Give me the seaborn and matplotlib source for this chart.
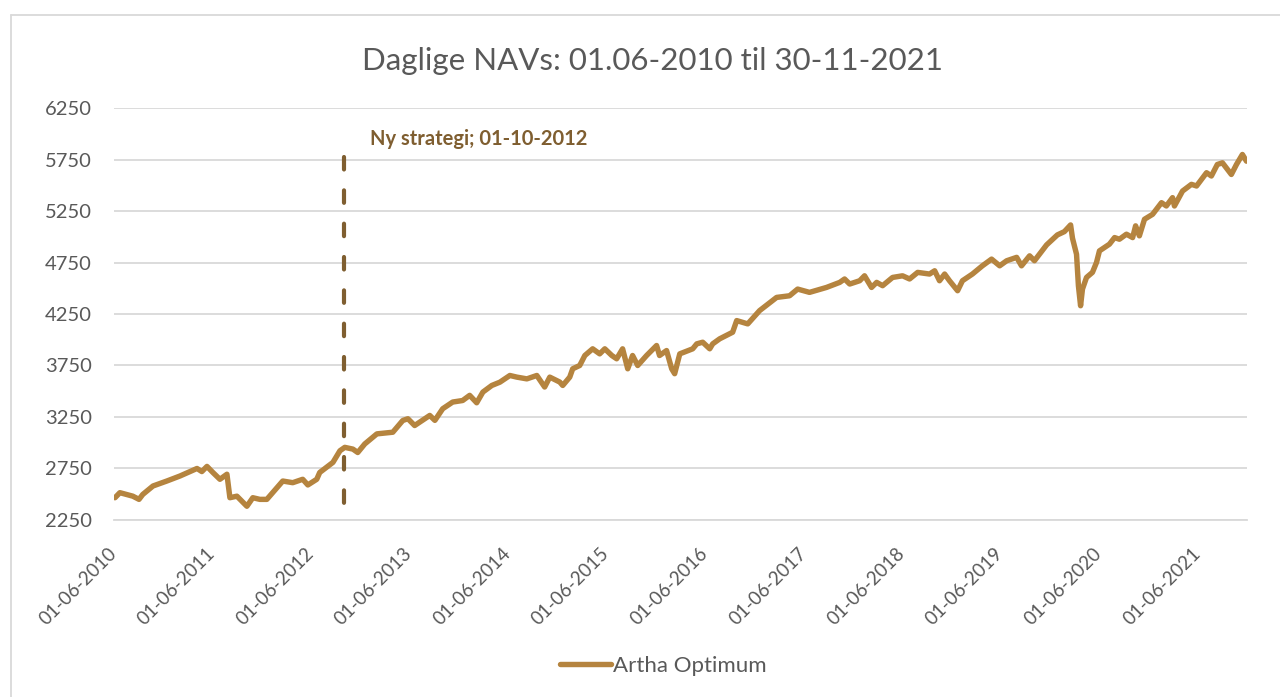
import pandas as pd
import seaborn as sns
import matplotlib.pyplot as plt
import matplotlib.dates as mdates
from matplotlib.lines import Line2D

# NAV values
dates = [
    "2010-06-05", "2010-06-23", "2010-08-10", "2010-09-02", "2010-09-16", "2010-10-24",
    "2010-12-14", "2011-02-01", "2011-04-05", "2011-04-23", "2011-05-12", "2011-06-03",
    "2011-06-29", "2011-07-25", "2011-08-05", "2011-08-31", "2011-10-07", "2011-10-29",
    "2011-11-24", "2011-12-20", "2012-02-17", "2012-03-25", "2012-05-01", "2012-05-20",
    "2012-06-22", "2012-07-03", "2012-08-21", "2012-09-16", "2012-10-04", "2012-11-03",
    "2012-11-21", "2012-12-17", "2013-01-31", "2013-03-31", "2013-05-07", "2013-05-26",
    "2013-06-20", "2013-08-15", "2013-09-03", "2013-10-02", "2013-11-08", "2013-12-15",
    "2014-01-10", "2014-02-05", "2014-02-28", "2014-04-02", "2014-05-02", "2014-06-08",
    "2014-07-04", "2014-08-10", "2014-09-16", "2014-10-15", "2014-11-03", "2014-12-10",
    "2014-12-21", "2015-01-16", "2015-01-27", "2015-02-22", "2015-03-13", "2015-04-11",
    "2015-05-07", "2015-05-26", "2015-06-21", "2015-07-09", "2015-07-31", "2015-08-19",
    "2015-09-06", "2015-09-25", "2015-10-28", "2015-12-04", "2015-12-15", "2016-01-10",
    "2016-01-29", "2016-02-09", "2016-02-28", "2016-04-16", "2016-05-01", "2016-05-23",
    "2016-06-18", "2016-06-29", "2016-07-25", "2016-09-11", "2016-09-26", "2016-11-06",
    "2016-12-20", "2017-02-21", "2017-04-10", "2017-05-10", "2017-06-23", "2017-08-25",
    "2017-10-13", "2017-10-31", "2017-11-19", "2017-12-26", "2018-01-13", "2018-02-08",
    "2018-02-27", "2018-03-21", "2018-04-27", "2018-06-03", "2018-06-29", "2018-07-29",
    "2018-09-11", "2018-09-30", "2018-10-18", "2018-11-06", "2018-11-24", "2018-12-24",
    "2019-01-11", "2019-02-17", "2019-03-26", "2019-04-29", "2019-05-29", "2019-06-24",
    "2019-07-31", "2019-08-18", "2019-09-17", "2019-10-05", "2019-11-19", "2019-12-29",
    "2020-01-24", "2020-02-16", "2020-02-23", "2020-03-09", "2020-03-16", "2020-03-24",
    "2020-03-31", "2020-04-15", "2020-05-07", "2020-05-22", "2020-06-02", "2020-07-09",
    "2020-07-28", "2020-08-15", "2020-09-10", "2020-10-03", "2020-10-14", "2020-10-28",
    "2020-11-16", "2020-12-16", "2021-01-18", "2021-02-05", "2021-02-28", "2021-03-07",
    "2021-04-06", "2021-05-09", "2021-05-28", "2021-07-04", "2021-07-22", "2021-08-13",
    "2021-09-01", "2021-10-04", "2021-10-23", "2021-11-14", "2021-11-29",
]
nav = [
    2466, 2515, 2481, 2450, 2498, 2580,
    2628, 2677, 2750, 2720, 2770, 2711,
    2645, 2694, 2466, 2481, 2383, 2466,
    2450, 2450, 2628, 2612, 2645, 2590,
    2645, 2711, 2809, 2922, 2955, 2938,
    2905, 2988, 3086, 3102, 3216, 3233,
    3167, 3265, 3217, 3330, 3395, 3410,
    3460, 3388, 3492, 3556, 3588, 3653,
    3637, 3620, 3653, 3541, 3637, 3589,
    3556, 3637, 3718, 3750, 3847, 3912,
    3863, 3912, 3847, 3815, 3912, 3718,
    3847, 3750, 3847, 3944, 3847, 3895,
    3718, 3670, 3863, 3912, 3960, 3976,
    3912, 3960, 4009, 4073, 4186, 4154,
    4283, 4411, 4427, 4492, 4460, 4508,
    4557, 4590, 4541, 4573, 4621, 4508,
    4557, 4525, 4605, 4621, 4590, 4654,
    4638, 4670, 4573, 4638, 4573, 4476,
    4573, 4638, 4718, 4783, 4718, 4767,
    4800, 4718, 4815, 4767, 4921, 5018,
    5050, 5115, 4986, 4830, 4524, 4330,
    4492, 4605, 4654, 4750, 4863, 4928,
    4992, 4976, 5025, 4992, 5106, 5009,
    5170, 5218, 5331, 5299, 5380, 5299,
    5444, 5509, 5493, 5622, 5590, 5702,
    5718, 5605, 5702, 5799, 5734,
]
strategy_date = "2012-10-01"
strategy_label = "Ny strategi; 01-10-2012"
series_name = "Artha Optimum"
title = "Daglige NAVs: 01.06-2010 til 30-11-2021"
y_ticks = [2250, 2750, 3250, 3750, 4250, 4750, 5250, 5750, 6250]
x_ticks = [f"{y}-06-01" for y in range(2010, 2022)]

df = pd.DataFrame({"dato": pd.to_datetime(dates), "nav": nav})

sns.set_theme(style="white")
plt.rcParams["font.family"] = ["Lato", "DejaVu Sans"]

line_col = "#B5843F"
dash_col = "#7F5E30"
txt_col = "#595959"
grid_col = "#D9D9D9"

fig = plt.figure(figsize=(12.8, 6.97), dpi=100)
ax = fig.add_axes([0.089, 0.254, 0.885, 0.591])

sns.lineplot(data=df, x="dato", y="nav", ax=ax, color=line_col, linewidth=3.9,
             solid_capstyle="round", solid_joinstyle="round", legend=False)

# strategy change marker, drawn top-down so the dash pattern starts at the top
sd = pd.Timestamp(strategy_date)
ax.plot([sd, sd], [5775, 2240], color=dash_col, linewidth=3, linestyle=(0, (3.0, 5.0)),
        dash_capstyle="round", zorder=3)
ax.annotate(strategy_label, xy=(sd, 5945), xytext=(19, 0), textcoords="offset points",
            color=dash_col, fontsize=14.5, fontweight="bold", va="center", ha="left")

ax.set_ylim(2250, 6250)
ax.set_yticks(y_ticks)
ax.set_xlim(pd.Timestamp("2010-06-01"), pd.Timestamp("2021-11-30"))
ax.set_xticks(pd.to_datetime(x_ticks))
ax.xaxis.set_major_formatter(mdates.DateFormatter("%d-%m-%Y"))

ax.grid(axis="y", color=grid_col, linewidth=1.3)
ax.set_axisbelow(True)
for s in ["top", "right", "left"]:
    ax.spines[s].set_visible(False)
ax.spines["bottom"].set_color(grid_col)
ax.spines["bottom"].set_linewidth(1.3)

ax.tick_params(axis="y", length=0, labelsize=14.5, labelcolor=txt_col, pad=16)
ax.tick_params(axis="x", length=6, width=1.3, color=grid_col, labelsize=13.5,
               labelcolor=txt_col, direction="out", pad=16)
plt.setp(ax.get_xticklabels(), rotation=45, ha="right", va="center",
         rotation_mode="anchor")
ax.set_xlabel("")
ax.set_ylabel("")

fig.text(0.51, 0.912, title, ha="center", va="center", fontsize=22.5, color=txt_col)

handle = Line2D([], [], color=line_col, linewidth=3.9, solid_capstyle="round")
fig.legend([handle], [series_name], loc="center", bbox_to_anchor=(0.518, 0.045),
           frameon=False, fontsize=16, labelcolor=txt_col, handlelength=2.3,
           handletextpad=0.1)

# chart border like the source
fig.add_artist(Line2D([11 / 1280, 11 / 1280], [0, 1 - 15 / 697], color=grid_col,
                      linewidth=1.3, transform=fig.transFigure))
fig.add_artist(Line2D([11 / 1280, 1], [1 - 15 / 697, 1 - 15 / 697], color=grid_col,
                      linewidth=1.3, transform=fig.transFigure))

fig.savefig("out.png", dpi=100)
